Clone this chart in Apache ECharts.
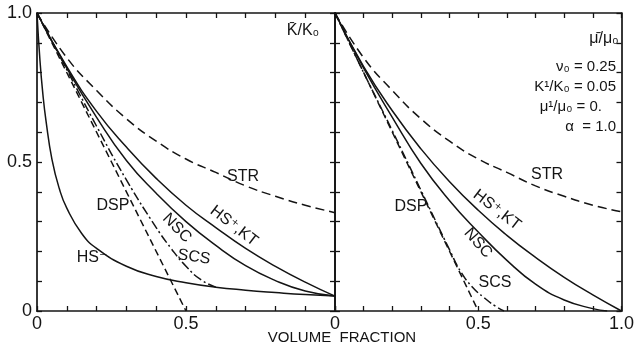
<!DOCTYPE html>
<html><head><meta charset="utf-8">
<script src="https://cdn.jsdelivr.net/npm/echarts@6/dist/echarts.min.js"></script>
<style>html,body{margin:0;padding:0;background:#fff}#c{width:637px;height:353px}</style>
</head><body><div id="c"></div>
<script>
// ---- data ----
const frac = [0,0.1,0.2,0.3,0.4,0.5,0.6,0.7,0.8,0.9,1.0];
// left panel: K/K0
const kSTR = [1,0.85,0.74,0.645,0.57,0.51,0.465,0.42,0.385,0.355,0.33];
const kHSplus = [1,0.82,0.67,0.55,0.445,0.355,0.28,0.21,0.15,0.097,0.05];
const kNSC = [1,0.815,0.65,0.505,0.395,0.30,0.22,0.152,0.102,0.067,0.05];
const kHSminusX = [0,0.01,0.02,0.03,0.05,0.075,0.1,0.15,0.2,0.3,0.4,0.5,0.6,0.7,0.8,0.9,1.0];
const kHSminus = [1,0.84,0.725,0.64,0.51,0.41,0.345,0.26,0.21,0.15,0.116,0.095,0.08,0.07,0.062,0.055,0.05];
const kSCSX = [0,0.1,0.2,0.3,0.4,0.45,0.5,0.55,0.6];
const kSCS = [1,0.81,0.62,0.44,0.28,0.21,0.15,0.105,0.08];
const dspX = [0,0.25,0.5];
const kDSP = [1,0.5,0];
// right panel: mu/mu0
const muSTR = [1,0.85,0.74,0.645,0.57,0.51,0.465,0.42,0.385,0.355,0.333];
const muHSplus = [1,0.82,0.672,0.544,0.434,0.338,0.254,0.18,0.113,0.054,0];
const muNSCX = [0,0.1,0.2,0.3,0.4,0.5,0.6,0.7,0.8,0.9,0.95];
const muNSC = [1,0.815,0.65,0.495,0.37,0.265,0.17,0.09,0.037,0.008,0];
const muSCSX = [0,0.1,0.2,0.3,0.4,0.44,0.48,0.52,0.56,0.59];
const muSCS = [1,0.80,0.605,0.405,0.205,0.13,0.08,0.045,0.016,0];
const muDSP = [1,0.5,0];
// tick labels
const yTickLabels = {0:'0', 0.5:'0.5', 1:'1.0'};
const xTickLabelsLeft = {0:'0', 0.5:'0.5'};
const xTickLabelsRight = {0:'0', 0.5:'0.5', 1:'1.0'};

// ---- chart ----
const INK = '#141414';
const FONT = '"Liberation Sans", "DejaVu Sans", sans-serif';
function pick(map){ return v => { for (const k in map) if (Math.abs(v - Number(k)) < 1e-6) return map[k]; return ''; }; }
function pairs(xs, ys){ return xs.map((x,i)=>[x, ys[i]]); }
function line(xs, ys, ax, dash){
  return { type:'line', xAxisIndex:ax, yAxisIndex:ax, data:pairs(xs,ys), symbol:'none',
    smooth:true, silent:true, clip:true,
    lineStyle:{ color:INK, width:1.5, type: dash || 'solid' } };
}
function axisCommon(labels){
  return {
    axisLine:{ show:true, onZero:false, lineStyle:{ color:INK, width:1.7 } },
    axisTick:{ show:true, inside:true, length:5, lineStyle:{ color:INK, width:1.3 } },
    splitLine:{ show:false },
    axisLabel:{ show:!!labels, formatter: labels ? pick(labels) : '', color:INK, fontSize:18, fontFamily:FONT, margin:4 } };
}
function xAx(grid, pos, labels){
  return Object.assign({ type:'value', gridIndex:grid, position:pos, min:0, max:1, interval:0.1 }, axisCommon(labels));
}
function yAx(grid, pos, labels){
  const a = Object.assign({ type:'value', gridIndex:grid, position:pos, min:0, max:1, interval:0.1 }, axisCommon(labels));
  a.axisLabel.margin = 5;
  return a;
}
function txt(s, x, y, rot, size, align){
  return { type:'text', x:x, y:y, rotation:rot||0, silent:true,
    style:{ text:s, font:(size||14)+'px '+FONT, fill:INK, align:align||'center', verticalAlign:'middle' } };
}
const DASH_STR = [9,5], DASH_DSP = [7,4], DASH_SCS = [9,3,2,3];

const option = {
  backgroundColor:'#ffffff',
  animation:false,
  grid:[ { left:37, top:13, width:298, height:298 }, { left:335, top:13, width:298, height:298 } ],
  xAxis:[ xAx(0,'bottom',xTickLabelsLeft), xAx(0,'top',null), xAx(1,'bottom',xTickLabelsRight), xAx(1,'top',null) ],
  yAxis:[ yAx(0,'left',yTickLabels), yAx(0,'right',null), yAx(1,'left',null), yAx(1,'right',null) ],
  series:[
    line(frac, kSTR, 0, DASH_STR),
    line(frac, kHSplus, 0),
    line(frac, kNSC, 0),
    line(kHSminusX, kHSminus, 0),
    line(kSCSX, kSCS, 0, DASH_SCS),
    line(dspX, kDSP, 0, DASH_DSP),
    line(frac, muSTR, 2, DASH_STR),
    line(frac, muHSplus, 2),
    line(muNSCX, muNSC, 2),
    line(muSCSX, muSCS, 2, DASH_SCS),
    line(dspX, muDSP, 2, DASH_DSP)
  ],
  graphic:[
    txt('K\u0304/K\u2080', 303, 31, 0, 16),
    txt('STR', 243, 177, 0, 16),
    txt('HS\u207A,KT', 234, 226, -0.66, 16),
    txt('NSC', 177, 228, -0.8, 16),
    txt('SCS', 194, 257, -0.15, 16),
    txt('DSP', 113, 206, 0, 16),
    txt('HS\u207B', 92, 258, 0, 16),
    txt('\u03BC\u0304/\u03BC\u2080', 604, 39, 0, 16),
    txt('\u03BD\u2080 = 0.25', 616, 67, 0, 15, 'right'),
    txt('K\u00B9/K\u2080 = 0.05', 616, 87, 0, 15, 'right'),
    txt('\u03BC\u00B9/\u03BC\u2080 = 0.', 602, 107, 0, 15, 'right'),
    txt('\u03B1  = 1.0', 616, 127, 0, 15, 'right'),
    txt('STR', 547, 175, 0, 16),
    txt('HS\u207A,KT', 497, 210, -0.66, 16),
    txt('NSC', 478, 243, -0.85, 16),
    txt('SCS', 495, 283, 0, 16),
    txt('DSP', 411, 207, 0, 16),
    txt('VOLUME  FRACTION', 342, 338, 0, 15)
  ]
};
const chart = echarts.init(document.getElementById('c'), null, { renderer:'canvas' });
chart.setOption(option);
</script>
</body></html>
